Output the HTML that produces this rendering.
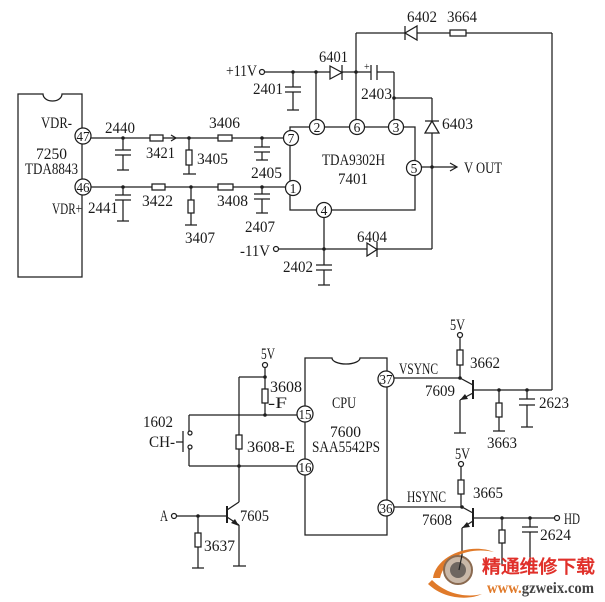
<!DOCTYPE html>
<html><head><meta charset="utf-8"><style>
html,body{margin:0;padding:0;background:#fff;}
svg{display:block;}
text{font-family:"Liberation Serif",serif;fill:#1a1a1a;}
.p{font-size:13.5px;}
</style></head><body>
<svg width="605" height="602" viewBox="0 0 605 602" xmlns="http://www.w3.org/2000/svg">
<rect width="605" height="602" fill="#fff"/>
<g fill="none" stroke="#1e1e1e" stroke-width="1.25">
<!-- Left IC -->
<path d="M18,94 H43 A9.5,7 0 0 0 62,94 H82 V277 H18 Z"/>
<line x1="91" y1="138" x2="284" y2="138"/>
<line x1="123" y1="138" x2="123" y2="150"/><line x1="115" y1="150" x2="131" y2="150"/><line x1="115" y1="155" x2="131" y2="155"/><line x1="123" y1="155" x2="123" y2="170"/><line x1="117" y1="170" x2="129" y2="170"/>
<polyline points="171,135 176,138 171,141"/>
<line x1="189" y1="138" x2="189" y2="174"/><line x1="183" y1="174" x2="196" y2="174"/>
<line x1="262" y1="138" x2="262" y2="147"/><line x1="254" y1="147" x2="270" y2="147"/><line x1="254" y1="152" x2="270" y2="152"/><line x1="262" y1="152" x2="262" y2="160"/><line x1="256" y1="160" x2="268" y2="160"/>
<line x1="91" y1="187" x2="286" y2="187"/>
<line x1="123" y1="187" x2="123" y2="195"/><line x1="115" y1="195" x2="131" y2="195"/><line x1="115" y1="200" x2="131" y2="200"/><line x1="123" y1="200" x2="123" y2="221"/><line x1="117" y1="221" x2="129" y2="221"/>
<line x1="191" y1="187" x2="191" y2="225"/><line x1="185" y1="225" x2="197" y2="225"/>
<line x1="262" y1="187" x2="262" y2="194"/><line x1="254" y1="194" x2="270" y2="194"/><line x1="254" y1="199" x2="270" y2="199"/><line x1="262" y1="199" x2="262" y2="213"/><line x1="256" y1="213" x2="268" y2="213"/>
<rect x="290" y="127" width="125" height="83"/>
<line x1="265" y1="72" x2="394" y2="72"/>
<line x1="293" y1="72" x2="293" y2="87"/><line x1="285" y1="87" x2="301" y2="87"/><line x1="285" y1="92" x2="301" y2="92"/><line x1="293" y1="92" x2="293" y2="110"/><line x1="287" y1="110" x2="299" y2="110"/>
<line x1="316" y1="72" x2="316" y2="127"/>
<line x1="356" y1="33" x2="356" y2="127"/>
<line x1="394" y1="72" x2="394" y2="127"/>
<line x1="394" y1="98" x2="432" y2="98"/>
<line x1="432" y1="98" x2="432" y2="249"/>
<line x1="279" y1="249" x2="432" y2="249"/>
<line x1="356" y1="33" x2="552" y2="33"/>
<line x1="552" y1="33" x2="552" y2="390"/>
<line x1="415" y1="167" x2="457" y2="167"/>
<polyline points="450,163 457,167 450,171"/>
<line x1="324" y1="210" x2="324" y2="265"/><line x1="316" y1="265" x2="332" y2="265"/><line x1="316" y1="270" x2="332" y2="270"/><line x1="324" y1="270" x2="324" y2="285"/><line x1="318" y1="285" x2="330" y2="285"/>
<path d="M305,358 H332 A14,6 0 0 0 360,358 H387 V535 H305 Z"/>
<line x1="265" y1="368" x2="265" y2="415"/>
<line x1="239" y1="377" x2="265" y2="377"/>
<line x1="239" y1="377" x2="239" y2="502"/>
<line x1="189" y1="415" x2="305" y2="415"/>
<line x1="189" y1="466" x2="305" y2="466"/>
<line x1="189" y1="415" x2="189" y2="431"/>
<line x1="189" y1="449" x2="189" y2="466"/>
<line x1="183" y1="431" x2="183" y2="452"/>
<line x1="176" y1="442" x2="183" y2="442"/>
<line x1="239" y1="502" x2="227" y2="510"/>
<line x1="227" y1="506" x2="227" y2="523" stroke-width="2"/>
<line x1="227" y1="517" x2="239" y2="525"/>
<line x1="239" y1="525" x2="239" y2="566"/><line x1="233" y1="566" x2="246" y2="566"/>
<line x1="177" y1="516" x2="227" y2="516"/>
<line x1="198" y1="516" x2="198" y2="568"/><line x1="192" y1="568" x2="204" y2="568"/>
<line x1="394" y1="378" x2="460" y2="378"/>
<line x1="460" y1="338" x2="460" y2="378"/>
<line x1="460" y1="378" x2="473" y2="385"/>
<line x1="473" y1="380" x2="473" y2="399" stroke-width="2"/>
<line x1="473" y1="393" x2="460" y2="400"/>
<line x1="460" y1="400" x2="460" y2="433"/><line x1="454" y1="433" x2="466" y2="433"/>
<line x1="473" y1="390" x2="552" y2="390"/>
<line x1="499" y1="390" x2="499" y2="431"/><line x1="493" y1="431" x2="505" y2="431"/>
<line x1="527" y1="390" x2="527" y2="399"/><line x1="519" y1="399" x2="535" y2="399"/><line x1="519" y1="405" x2="535" y2="405"/><line x1="527" y1="405" x2="527" y2="427"/><line x1="521" y1="427" x2="533" y2="427"/>
<line x1="394" y1="507" x2="462" y2="507"/>
<line x1="461" y1="467" x2="461" y2="507"/>
<line x1="462" y1="507" x2="473" y2="513"/>
<line x1="473" y1="508" x2="473" y2="527" stroke-width="2"/>
<line x1="473" y1="521" x2="462" y2="528"/>
<line x1="462" y1="528" x2="462" y2="572"/>
<line x1="473" y1="518" x2="554" y2="518"/>
<line x1="502" y1="518" x2="502" y2="565"/>
<line x1="530" y1="518" x2="530" y2="527"/><line x1="522" y1="527" x2="538" y2="527"/><line x1="522" y1="532" x2="538" y2="532"/><line x1="530" y1="532" x2="530" y2="565"/>
</g>
<g fill="#fff" stroke="#1e1e1e" stroke-width="1.25">
<rect x="150" y="135" width="13" height="6"/>
<rect x="218" y="135" width="14" height="6"/>
<rect x="186" y="150" width="6" height="15"/>
<rect x="152" y="184" width="13" height="6"/>
<rect x="218" y="184" width="15" height="6"/>
<rect x="188" y="200" width="6" height="13"/>
<rect x="450" y="30" width="16" height="6"/>
<rect x="262" y="389" width="6" height="14"/>
<rect x="236" y="435" width="6" height="14"/>
<rect x="195" y="533" width="6" height="14"/>
<rect x="457" y="350" width="6" height="15"/>
<rect x="496" y="403" width="6" height="14"/>
<rect x="458" y="480" width="6" height="14"/>
<rect x="499" y="530" width="6" height="13"/>
<rect x="371" y="64" width="6" height="16" stroke="none"/>
<line x1="371" y1="65" x2="371" y2="80"/><line x1="377" y1="65" x2="377" y2="80"/>
<polygon points="330,66 330,79 342,72.5"/><line x1="342" y1="65" x2="342" y2="80"/>
<polygon points="417,26 417,40 405,33"/><line x1="405" y1="26" x2="405" y2="40"/>
<polygon points="432,121 425,133 439,133"/><line x1="425" y1="121" x2="439" y2="121"/>
<polygon points="367,243 367,256 377,249.5"/><line x1="377" y1="242" x2="377" y2="257"/>
<circle cx="262" cy="72" r="2.5"/>
<circle cx="276" cy="249" r="2.5"/>
<circle cx="265" cy="365" r="2.5"/>
<circle cx="174" cy="516" r="2.5"/>
<circle cx="460" cy="335" r="2.5"/>
<circle cx="461" cy="464" r="2.5"/>
<circle cx="557" cy="518" r="2.5"/>
<circle cx="190" cy="433" r="2"/>
<circle cx="190" cy="447" r="2"/>
<circle cx="83" cy="136" r="8"/>
<circle cx="83" cy="187" r="8"/>
<circle cx="291" cy="138" r="7.5"/>
<circle cx="293" cy="188" r="7.5"/>
<circle cx="317" cy="127" r="7.5"/>
<circle cx="357" cy="127" r="7.5"/>
<circle cx="396" cy="127" r="7.5"/>
<circle cx="414" cy="168" r="7.5"/>
<circle cx="324" cy="210" r="7.5"/>
<circle cx="386" cy="379" r="8"/>
<circle cx="305" cy="414" r="8"/>
<circle cx="305" cy="467" r="8"/>
<circle cx="386" cy="508" r="8"/>
</g>
<g fill="#1e1e1e">
<polygon points="239,526 231,523 235,519"/>
<polygon points="460,400 465,394 468,399"/>
<polygon points="462,528 467,522 470,527"/>
<circle cx="123" cy="138" r="1.8"/><circle cx="189" cy="138" r="1.8"/><circle cx="262" cy="138" r="1.8"/>
<circle cx="123" cy="187" r="1.8"/><circle cx="191" cy="187" r="1.8"/><circle cx="262" cy="187" r="1.8"/>
<circle cx="293" cy="72" r="1.8"/><circle cx="316" cy="72" r="1.8"/><circle cx="356" cy="72" r="1.8"/>
<circle cx="394" cy="98" r="1.8"/><circle cx="432" cy="167" r="1.8"/><circle cx="324" cy="249" r="1.8"/>
<circle cx="265" cy="377" r="1.8"/><circle cx="265" cy="415" r="1.8"/><circle cx="239" cy="466" r="1.8"/>
<circle cx="198" cy="516" r="1.8"/>
<circle cx="460" cy="378" r="1.8"/><circle cx="499" cy="390" r="1.8"/><circle cx="527" cy="390" r="1.8"/>
<circle cx="462" cy="507" r="1.8"/><circle cx="502" cy="518" r="1.8"/><circle cx="530" cy="518" r="1.8"/>
</g>
<g font-size="16">
<text x="41" y="128" textLength="31" lengthAdjust="spacingAndGlyphs">VDR-</text>
<text x="36" y="159" textLength="31" lengthAdjust="spacingAndGlyphs">7250</text>
<text x="25" y="174" textLength="53" lengthAdjust="spacingAndGlyphs">TDA8843</text>
<text x="52" y="214" textLength="30" lengthAdjust="spacingAndGlyphs">VDR+</text>
<text x="105" y="133" textLength="30" lengthAdjust="spacingAndGlyphs">2440</text>
<text x="146" y="158" textLength="29" lengthAdjust="spacingAndGlyphs">3421</text>
<text x="197" y="164" textLength="31" lengthAdjust="spacingAndGlyphs">3405</text>
<text x="209" y="128" textLength="31" lengthAdjust="spacingAndGlyphs">3406</text>
<text x="251" y="178" textLength="31" lengthAdjust="spacingAndGlyphs">2405</text>
<text x="88" y="213" textLength="30" lengthAdjust="spacingAndGlyphs">2441</text>
<text x="142" y="206" textLength="31" lengthAdjust="spacingAndGlyphs">3422</text>
<text x="185" y="243" textLength="30" lengthAdjust="spacingAndGlyphs">3407</text>
<text x="217" y="206" textLength="31" lengthAdjust="spacingAndGlyphs">3408</text>
<text x="245" y="232" textLength="30" lengthAdjust="spacingAndGlyphs">2407</text>
<text x="226" y="76" textLength="31" lengthAdjust="spacingAndGlyphs">+11V</text>
<text x="253" y="94" textLength="30" lengthAdjust="spacingAndGlyphs">2401</text>
<text x="319" y="62" textLength="29" lengthAdjust="spacingAndGlyphs">6401</text>
<text x="361" y="99" textLength="31" lengthAdjust="spacingAndGlyphs">2403</text>
<text x="364" y="70" font-size="10">+</text>
<text x="407" y="22" textLength="30" lengthAdjust="spacingAndGlyphs">6402</text>
<text x="447" y="22" textLength="30" lengthAdjust="spacingAndGlyphs">3664</text>
<text x="442" y="129" textLength="31" lengthAdjust="spacingAndGlyphs">6403</text>
<text x="322" y="165" textLength="63" lengthAdjust="spacingAndGlyphs">TDA9302H</text>
<text x="338" y="184" textLength="30" lengthAdjust="spacingAndGlyphs">7401</text>
<text x="464" y="173" textLength="38" lengthAdjust="spacingAndGlyphs">V OUT</text>
<text x="240" y="256" textLength="30" lengthAdjust="spacingAndGlyphs">-11V</text>
<text x="357" y="242" textLength="30" lengthAdjust="spacingAndGlyphs">6404</text>
<text x="283" y="272" textLength="30" lengthAdjust="spacingAndGlyphs">2402</text>
<text x="332" y="408" textLength="24" lengthAdjust="spacingAndGlyphs">CPU</text>
<text x="330" y="437" textLength="31" lengthAdjust="spacingAndGlyphs">7600</text>
<text x="312" y="452" textLength="68" lengthAdjust="spacingAndGlyphs">SAA5542PS</text>
<text x="261" y="359" textLength="14" lengthAdjust="spacingAndGlyphs">5V</text>
<text x="270" y="392" textLength="32" lengthAdjust="spacingAndGlyphs">3608</text>
<text x="268" y="408" textLength="19" lengthAdjust="spacingAndGlyphs">-F</text>
<text x="247" y="452" textLength="48" lengthAdjust="spacingAndGlyphs">3608-E</text>
<text x="143" y="427" textLength="30" lengthAdjust="spacingAndGlyphs">1602</text>
<text x="149" y="447" textLength="26" lengthAdjust="spacingAndGlyphs">CH-</text>
<text x="160" y="521" textLength="8" lengthAdjust="spacingAndGlyphs">A</text>
<text x="240" y="521" textLength="29" lengthAdjust="spacingAndGlyphs">7605</text>
<text x="204" y="551" textLength="31" lengthAdjust="spacingAndGlyphs">3637</text>
<text x="399" y="374" textLength="39" lengthAdjust="spacingAndGlyphs">VSYNC</text>
<text x="450" y="330" textLength="15" lengthAdjust="spacingAndGlyphs">5V</text>
<text x="470" y="368" textLength="30" lengthAdjust="spacingAndGlyphs">3662</text>
<text x="425" y="396" textLength="30" lengthAdjust="spacingAndGlyphs">7609</text>
<text x="487" y="448" textLength="30" lengthAdjust="spacingAndGlyphs">3663</text>
<text x="539" y="408" textLength="30" lengthAdjust="spacingAndGlyphs">2623</text>
<text x="407" y="502" textLength="39" lengthAdjust="spacingAndGlyphs">HSYNC</text>
<text x="455" y="459" textLength="15" lengthAdjust="spacingAndGlyphs">5V</text>
<text x="473" y="498" textLength="30" lengthAdjust="spacingAndGlyphs">3665</text>
<text x="422" y="525" textLength="30" lengthAdjust="spacingAndGlyphs">7608</text>
<text x="564" y="524" textLength="16" lengthAdjust="spacingAndGlyphs">HD</text>
<text x="540" y="540" textLength="31" lengthAdjust="spacingAndGlyphs">2624</text>
</g>
<g class="p" text-anchor="middle">
<text x="83" y="141" textLength="13" lengthAdjust="spacingAndGlyphs">47</text>
<text x="83" y="192" textLength="13" lengthAdjust="spacingAndGlyphs">46</text>
<text x="291" y="143">7</text>
<text x="293" y="193">1</text>
<text x="317" y="132">2</text>
<text x="357" y="132">6</text>
<text x="396" y="132">3</text>
<text x="414" y="173">5</text>
<text x="324" y="215">4</text>
<text x="386" y="384" textLength="13" lengthAdjust="spacingAndGlyphs">37</text>
<text x="305" y="419" textLength="13" lengthAdjust="spacingAndGlyphs">15</text>
<text x="305" y="472" textLength="13" lengthAdjust="spacingAndGlyphs">16</text>
<text x="386" y="513" textLength="13" lengthAdjust="spacingAndGlyphs">36</text>
</g>
<g>
<path d="M433,578 C436,556 470,542 494,552 C472,547 446,554 440,578 Z" fill="#e07a2a"/>
<path d="M428,584 C445,600 470,600 482,594 C466,598 446,594 432,580 Z" fill="#e07a2a"/>
<circle cx="458" cy="570" r="14" fill="#c9b8a8" stroke="#8a6a50" stroke-width="2"/>
<circle cx="458" cy="570" r="8" fill="#6e6660"/>
<line x1="462" y1="555" x2="459" y2="570" stroke="#222" stroke-width="1.2"/>
</g>
<text x="482" y="573" font-family="'Noto Sans CJK SC','WenQuanYi Zen Hei',sans-serif" font-size="18" font-weight="bold" textLength="113" lengthAdjust="spacingAndGlyphs" style="fill:#e0302a">精通维修下载</text>
<text x="487" y="593" font-family="'Liberation Sans',sans-serif" font-size="16" font-weight="bold" textLength="107" lengthAdjust="spacingAndGlyphs" style="fill:#444"><tspan style="fill:#e07a2a">www.</tspan>gzweix.com</text>
</svg>
</body></html>
